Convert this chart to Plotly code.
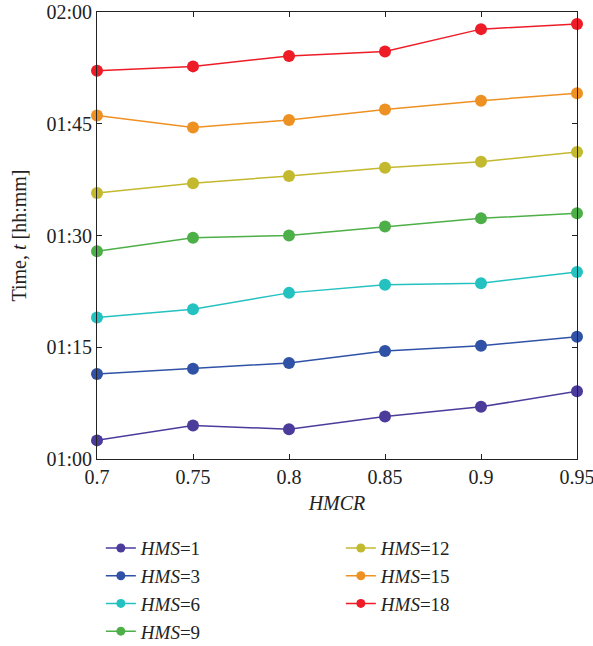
import plotly.graph_objects as go

hmcr = [0.7, 0.75, 0.8, 0.85, 0.9, 0.95]
hms_labels = ["1", "3", "6", "9", "12", "15", "18"]
# times in minutes
t_hms1 = [62.5, 64.5, 64.0, 65.7, 67.0, 69.1]
t_hms3 = [71.4, 72.1, 72.9, 74.5, 75.2, 76.4]
t_hms6 = [79.0, 80.1, 82.3, 83.4, 83.6, 85.1]
t_hms9 = [87.9, 89.7, 90.0, 91.2, 92.3, 93.0]
t_hms12 = [95.7, 97.0, 98.0, 99.1, 99.9, 101.2]
t_hms15 = [106.1, 104.5, 105.5, 106.9, 108.1, 109.1]
t_hms18 = [112.1, 112.7, 114.1, 114.7, 117.7, 118.4]
series = [t_hms1, t_hms3, t_hms6, t_hms9, t_hms12, t_hms15, t_hms18]
colors = ["#4b3b9b", "#2f52a6", "#24c1c1", "#4daf47", "#c3b92f", "#ee9123", "#ee1c27"]

y_tickvals = [60, 75, 90, 105, 120]
y_ticktext = ["01:00", "01:15", "01:30", "01:45", "02:00"]
x_tickvals = [0.7, 0.75, 0.8, 0.85, 0.9, 0.95]
x_ticktext = ["0.7", "0.75", "0.8", "0.85", "0.9", "0.95"]

FONT = "Liberation Serif"
fig = go.Figure()
for i, (lab, ys, c) in enumerate(zip(hms_labels, series, colors)):
    fig.add_trace(go.Scatter(
        x=hmcr, y=ys, mode="lines+markers",
        line=dict(color=c, width=1.5),
        marker=dict(color=c, size=12),
        cliponaxis=False, showlegend=False))
    fig.add_trace(go.Scatter(
        x=[None], y=[None], mode="lines+markers",
        line=dict(color=c, width=1.5),
        marker=dict(color=c, size=9),
        name=f"<i>HMS</i>={lab}",
        legend="legend" if i < 4 else "legend2"))

axis_common = dict(showline=True, linecolor="#222", linewidth=1, mirror="ticks",
                   ticks="inside", ticklen=5, tickcolor="#222", showgrid=False,
                   zeroline=False, ticklabeloverflow="allow",
                   tickfont=dict(family=FONT, size=20, color="#222"))
fig.update_layout(
    width=593, height=646,
    margin=dict(l=97, r=16, t=12, b=187, autoexpand=False),
    plot_bgcolor="white", paper_bgcolor="white",
    font=dict(family=FONT, size=20, color="#222"),
    xaxis=dict(range=[0.7, 0.95], tickvals=x_tickvals, ticktext=x_ticktext,
               title=dict(text="<i>HMCR</i>", font=dict(family=FONT, size=20), standoff=8),
               **axis_common),
    yaxis=dict(range=[60, 120], tickvals=y_tickvals, ticktext=y_ticktext,
               title=dict(text="Time, <i>t</i> [hh:mm]", font=dict(family=FONT, size=20), standoff=14),
               **axis_common),
    legend=dict(x=0.008, y=-0.157, xanchor="left", yanchor="top", tracegroupgap=0,
                font=dict(family=FONT, size=19), bgcolor="rgba(0,0,0,0)"),
    legend2=dict(x=0.508, y=-0.157, xanchor="left", yanchor="top", tracegroupgap=0,
                 font=dict(family=FONT, size=19), bgcolor="rgba(0,0,0,0)"),
)
fig.write_html("out.html", config={"displayModeBar": False},
               post_script="document.body.style.margin='0';")
